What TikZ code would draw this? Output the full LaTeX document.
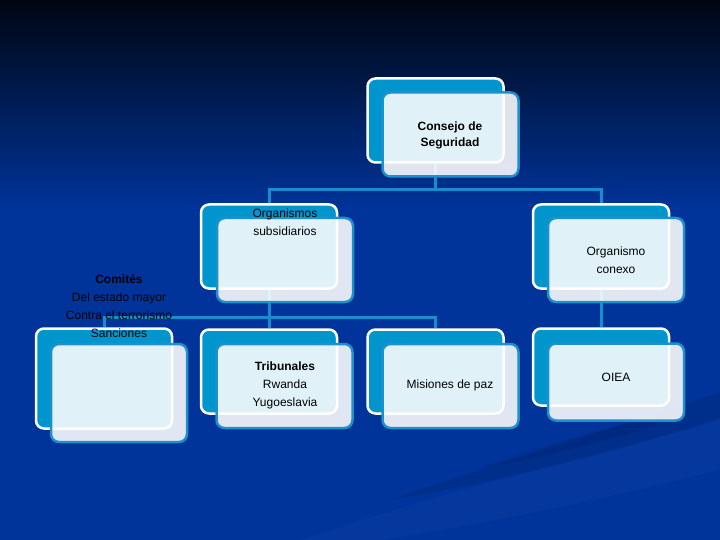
\documentclass[tikz,border=0pt]{standalone}
\usepackage{fontspec}
\setmainfont{Liberation Sans}

\definecolor{bgtop}{RGB}{0,6,18}
\definecolor{bgmid}{RGB}{0,36,110}
\definecolor{bgbase}{RGB}{0,52,155}
\definecolor{cardcyan}{RGB}{0,150,205}
\definecolor{cardedge}{RGB}{30,145,205}
\definecolor{linkblue}{RGB}{25,140,205}

\pgfdeclarelayer{bg}
\pgfdeclarelayer{links}
\pgfsetlayers{bg,links,main}

\tikzset{
  backcard/.style={rectangle, rounded corners=8pt, inner sep=0pt,
    minimum width=136pt, minimum height=84pt,
    fill=cardcyan, draw=white, line width=2.5pt},
  frontcard/.style={backcard, fill=white, fill opacity=0.88, draw=cardedge},
  link/.style={draw=linkblue, line width=3pt},
  cardtext/.style={align=center, text=black, font=\fontsize{12}{18}\selectfont}
}

\begin{document}
\begin{tikzpicture}[x=1pt,y=-1pt]
    \useasboundingbox (0,0) rectangle (720,540);

    % back cards
    \node[backcard] (consejoB) at (435.5,120.5) {};
    \node[backcard] (subsidB) at (269,246.5) {};
    \node[backcard] (conexoB) at (601,246.5) {};
    \node[backcard, minimum height=100pt] (comitesB) at (104,378.5) {};
    \node[backcard] (tribunB) at (269,371.5) {};
    \node[backcard] (misionB) at (435.5,371.5) {};
    \node[backcard, minimum height=77pt] (oieaB) at (601,367) {};

    % front cards
    \node[frontcard] (consejoF) at (450.5,134.5) {};
    \node[frontcard] (subsidF) at (285,260) {};
    \node[frontcard] (conexoF) at (616,260) {};
    \node[frontcard, minimum height=98pt] (comitesF) at (119,393) {};
    \node[frontcard] (tribunF) at (284.5,386) {};
    \node[frontcard] (misionF) at (450.5,386) {};
    \node[frontcard, minimum height=77pt] (oieaF) at (616,382) {};

    % labels
    \node[cardtext, font=\fontsize{12}{16}\selectfont\bfseries] (consejoT) at (450,135) {Consejo de\\Seguridad};
    \node[cardtext] (subsidT) at (285,222) {Organismos\\subsidiarios};
    \node[cardtext] (conexoT) at (616,260) {Organismo\\conexo};
    \node[cardtext] (comitesT) at (119,306) {\textbf{Comités}\\Del estado mayor\\Contra el terrorismo\\Sanciones};
    \node[cardtext] (tribunT) at (285,385) {\textbf{Tribunales}\\Rwanda\\Yugoeslavia};
    \node[cardtext] (misionT) at (450,385) {Misiones de paz};
    \node[cardtext] (oieaT) at (616,377) {OIEA};

    % connectors
    \coordinate (bus1) at (435.5,190);
    \coordinate (bus2) at (269,317);
    \begin{pgfonlayer}{links}
    \draw[link] (consejoB) |- (bus1) -| (subsidB);
    \draw[link] (bus1) -| (conexoB);
    \draw[link] (subsidB) |- (bus2) -| (comitesB);
    \draw[link] (bus2) -| (misionB);
    \draw[link] (bus2) -- (tribunB);
    \draw[link] (conexoB) -- (oieaB);
    \end{pgfonlayer}

    % background
    \begin{pgfonlayer}{bg}
    \shade[top color=bgtop, middle color=bgmid, bottom color=bgbase] (0,0) rectangle (720,210);
    \fill[bgbase] (0,209) rectangle (720,540);
    \fill[black, opacity=0.10] (390,500) .. controls (520,455) and (640,420) .. (720,392)
        -- (720,418) .. controls (640,445) and (520,478) .. (390,500) -- cycle;
    \fill[black, opacity=0.07] (470,470) .. controls (540,445) and (600,430) .. (650,418)
        -- (660,425) .. controls (600,442) and (540,458) .. (470,470) -- cycle;
    \fill[white, opacity=0.02] (300,540) .. controls (480,480) and (620,450) .. (720,420)
        -- (720,470) .. controls (600,500) and (480,525) .. (380,540) -- cycle;
    \end{pgfonlayer}
\end{tikzpicture}
\end{document}
